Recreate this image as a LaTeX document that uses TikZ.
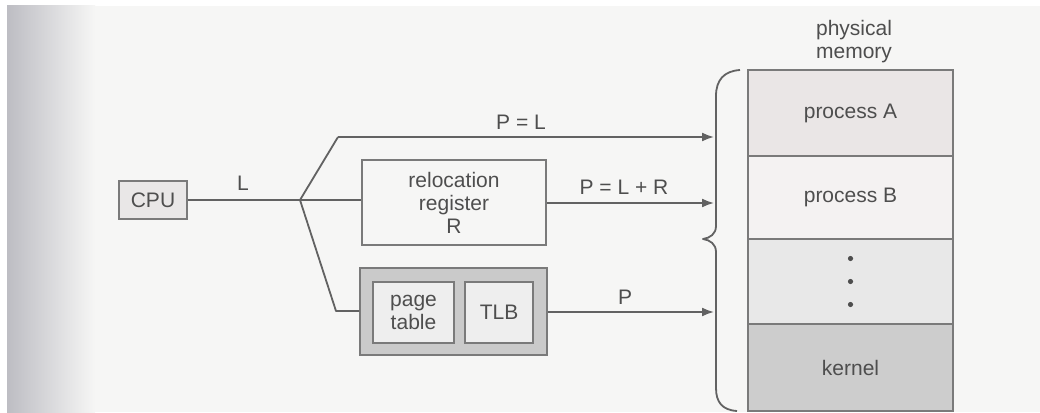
\documentclass[tikz,border=0pt]{standalone}
\usepackage{fontspec}
\setmainfont{Liberation Sans}
\usetikzlibrary{arrows.meta}
\definecolor{ink}{HTML}{4E4E4E}
\definecolor{wire}{HTML}{626262}
\definecolor{edge}{HTML}{7A7A7A}
\definecolor{paper}{HTML}{F6F6F5}
\definecolor{margin}{HTML}{BDBDC3}
\definecolor{memA}{HTML}{EAE6E6}
\definecolor{memB}{HTML}{F4F2F2}
\definecolor{memD}{HTML}{E8E8E8}
\definecolor{memK}{HTML}{CDCDCD}
\definecolor{ptout}{HTML}{CACACA}
\definecolor{ptin}{HTML}{EEEEEE}
\definecolor{cpufill}{HTML}{E9E7E7}
\tikzset{
  txt/.style={text=ink, font=\fontsize{21}{23}\selectfont, inner sep=0pt},
  box/.style={draw=edge, line width=1.5pt, inner sep=0pt, align=center, text=ink,
              font=\fontsize{21}{23}\selectfont},
  wireline/.style={draw=wire, line width=1.8pt, line join=round},
  arr/.style={wireline, -{Latex[length=12pt,width=9pt]}},
  memcell/.style={box, minimum width=205pt}
}
\begin{document}
\begin{tikzpicture}[x=1pt,y=-1pt]
\useasboundingbox (0,0) rectangle (1040,412);
% paper
\fill[white] (0,0) rectangle (1040,412);
\fill[paper] (7,6) rectangle (1040,412);
\shade[left color=margin, right color=paper] (7,6) rectangle (95,412);

% CPU
\node[box, fill=cpufill, minimum width=68pt, minimum height=38pt] (cpu) at (153,200) {CPU};
% relocation register
\node[box, fill=paper, minimum width=184pt, minimum height=85pt] (reloc) at (454,202.5) {relocation\\register\\R};
% page table group
\node[box, fill=ptout, minimum width=187pt, minimum height=87pt] (ptgroup) at (453.5,311.5) {};
\node[box, fill=ptin, minimum width=81pt, minimum height=61pt] (pt) at (413.5,312.5) {page\\table};
\node[box, fill=ptin, minimum width=68pt, minimum height=61pt] (tlb) at (499,312.5) {TLB};

% physical memory
\node[txt, align=center] (pmlabel) at (854,42) {physical\\memory};
\node[memcell, fill=memA, minimum height=86pt] (pa) at (850.5,113) {process A};
\node[memcell, fill=memB, minimum height=83pt] (pb) at (850.5,197.5) {process B};
\node[memcell, fill=memD, minimum height=85pt] (pd) at (850.5,281.5) {};
\node[memcell, fill=memK, minimum height=87pt] (pk) at (850.5,367.5) {kernel};
\foreach \yy in {-23,0,23} \fill[ink] ([yshift=-\yy pt]pd.center) circle (2.6pt);

% brace
\draw[wireline] (740,70) .. controls (724,71) and (716,80) .. (716,96)
  -- (716,226) .. controls (716,234) and (710,238) .. (703,239)
  .. controls (710,240) and (716,244) .. (716,252)
  -- (716,388) .. controls (716,402) and (722,410) .. (737,411);

% routing points
\coordinate (split) at (300,200);
\coordinate (upbend) at (338,137);
\coordinate (lowbend) at (336,311);
\coordinate (inA) at (714,137);
\coordinate (inB) at (714,203);
\coordinate (inP) at (714,312);

% connectors
\draw[wireline] (cpu.east) -- (split);
\draw[wireline] (split) -- (reloc.west |- split);
\draw[wireline] (split) -- (upbend);
\draw[wireline] (split) -- (lowbend) -- (ptgroup.west |- lowbend);
\draw[arr] (upbend) -- (inA);
\draw[arr] (reloc.east |- inB) -- (inB);
\draw[arr] (ptgroup.east |- inP) -- (inP);

% labels
\node[txt] (lblL) at (243,183) {L};
\node[txt] (lblPL) at (521,122) {P = L};
\node[txt] (lblPLR) at (624,187) {P = L + R};
\node[txt] (lblP) at (625,297) {P};
\end{tikzpicture}
\end{document}
